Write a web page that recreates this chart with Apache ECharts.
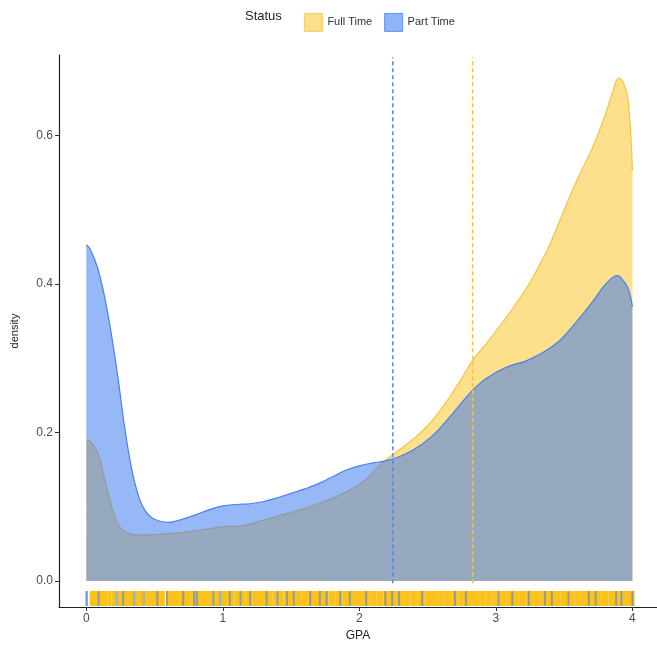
<!DOCTYPE html>
<html>
<head>
<meta charset="utf-8">
<script src="https://cdn.jsdelivr.net/npm/echarts@6/dist/echarts.min.js"></script>
<style>html,body{margin:0;padding:0;background:#fff;}#c{width:657px;height:649px;}</style>
</head>
<body>
<div id="c"></div>
<script>
// ---- data ----
var seriesNames = ['Full Time', 'Part Time'];

var gpaFull = [0, 0.04, 0.09, 0.14, 0.19, 0.24, 0.3, 0.4, 0.55, 0.7, 0.85, 1.0, 1.13, 1.3, 1.47, 1.67, 1.86, 2.03, 2.15, 2.25, 2.4, 2.52, 2.64, 2.74, 2.83, 2.94, 3.08, 3.23, 3.375, 3.47, 3.6, 3.7, 3.8, 3.85, 3.9, 3.94, 3.97, 4.0];
var densityFull = [0.19, 0.186, 0.169, 0.133, 0.097, 0.074, 0.065, 0.062, 0.063, 0.065, 0.069, 0.073, 0.074, 0.082, 0.091, 0.102, 0.116, 0.134, 0.156, 0.171, 0.192, 0.213, 0.242, 0.27, 0.297, 0.322, 0.356, 0.396, 0.445, 0.486, 0.542, 0.58, 0.627, 0.655, 0.677, 0.668, 0.645, 0.553];

var gpaPart = [0, 0.03, 0.08, 0.13, 0.18, 0.23, 0.28, 0.33, 0.38, 0.43, 0.5, 0.6, 0.7, 0.8, 0.9, 1.0, 1.1, 1.2, 1.3, 1.4, 1.5, 1.6, 1.7, 1.8, 1.9, 2.0, 2.1, 2.2, 2.3, 2.4, 2.52, 2.64, 2.74, 2.83, 2.94, 3.08, 3.23, 3.375, 3.47, 3.6, 3.7, 3.8, 3.85, 3.89, 3.93, 3.97, 4.0];
var densityPart = [0.4525, 0.446, 0.423, 0.386, 0.336, 0.276, 0.208, 0.153, 0.116, 0.095, 0.083, 0.079, 0.083, 0.089, 0.096, 0.101, 0.103, 0.104, 0.107, 0.112, 0.118, 0.124, 0.131, 0.14, 0.149, 0.155, 0.159, 0.162, 0.168, 0.177, 0.193, 0.216, 0.238, 0.257, 0.274, 0.288, 0.297, 0.311, 0.324, 0.351, 0.374, 0.399, 0.408, 0.411, 0.405, 0.393, 0.369];

var meanFull = 2.83;
var meanPart = 2.245;

var rugFull = [0.04, 0.06, 0.075, 0.105, 0.12, 0.14, 0.17, 0.2, 0.24, 0.26, 0.29, 0.31, 0.33, 0.37, 0.38, 0.4, 0.44, 0.46, 0.49, 0.51, 0.54, 0.56, 0.6, 0.62, 0.65, 0.67, 0.7, 0.73, 0.75, 0.78, 0.795, 0.825, 0.84, 0.86, 0.89, 0.91, 0.94, 0.96, 1.0, 1.02, 1.05, 1.07, 1.1, 1.12, 1.15, 1.18, 1.2, 1.23, 1.25, 1.28, 1.3, 1.33, 1.35, 1.38, 1.41, 1.43, 1.46, 1.49, 1.51, 1.54, 1.56, 1.59, 1.61, 1.64, 1.66, 1.68, 1.695, 1.725, 1.74, 1.76, 1.79, 1.81, 1.84, 1.86, 1.89, 1.91, 1.94, 1.96, 1.99, 2.01, 2.04, 2.06, 2.09, 2.11, 2.14, 2.16, 2.19, 2.21, 2.24, 2.26, 2.29, 2.31, 2.34, 2.36, 2.39, 2.41, 2.44, 2.46, 2.49, 2.51, 2.54, 2.56, 2.59, 2.61, 2.64, 2.66, 2.69, 2.71, 2.74, 2.76, 2.79, 2.81, 2.84, 2.86, 2.89, 2.91, 2.94, 2.96, 2.99, 3.01, 3.04, 3.06, 3.09, 3.11, 3.14, 3.16, 3.19, 3.21, 3.24, 3.26, 3.29, 3.31, 3.34, 3.36, 3.39, 3.41, 3.44, 3.46, 3.49, 3.51, 3.54, 3.56, 3.59, 3.61, 3.64, 3.66, 3.69, 3.71, 3.74, 3.76, 3.79, 3.81, 3.84, 3.86, 3.89, 3.91, 3.94, 3.96, 3.99, 4.0];
var rugPart = [0.0, 0.005, 0.09, 0.22, 0.27, 0.35, 0.42, 0.52, 0.59, 0.71, 0.79, 0.81, 0.93, 0.98, 1.05, 1.13, 1.2, 1.32, 1.4, 1.47, 1.52, 1.64, 1.71, 1.76, 1.86, 1.93, 2.05, 2.19, 2.24, 2.29, 2.46, 2.7, 2.78, 3.02, 3.12, 3.24, 3.36, 3.41, 3.53, 3.68, 3.73, 3.88, 3.92, 4.0];
var rugLevel = -0.0235;

var xTicks = [0, 1, 2, 3, 4];
var yTicks = [0, 0.2, 0.4, 0.6];

// ---- build ----
function pairs(xs, ys) { return xs.map(function (x, i) { return [x, ys[i]]; }); }
function rug(xs) { return xs.map(function (x) { return [x, rugLevel]; }); }

var yellowLine = '#F5C342';
var blueLine = '#4A7FEF';
var yellowFill = '#F9C21A';
var blueFill = '#2F72F0';

var chart = echarts.init(document.getElementById('c'), null, { renderer: 'canvas' });
chart.setOption({
  animation: false,
  backgroundColor: '#ffffff',
  textStyle: { fontFamily: 'Liberation Sans, Arial, sans-serif' },
  graphic: [{
    type: 'text', left: 245, top: 10,
    style: { text: 'Status', fontSize: 13, fill: '#222', fontFamily: 'Liberation Sans, Arial, sans-serif' }
  }],
  legend: {
    left: 299, top: 8,
    itemWidth: 18, itemHeight: 18, itemGap: 12,
    icon: 'rect',
    textStyle: { fontSize: 11, color: '#333' },
    selectedMode: false,
    data: [
      { name: seriesNames[0], itemStyle: { color: '#FCDF8C', borderColor: yellowLine, borderWidth: 0.8 } },
      { name: seriesNames[1], itemStyle: { color: '#8FB4F8', borderColor: blueLine, borderWidth: 0.8 } }
    ]
  },
  grid: { left: 59, right: 0, top: 55, bottom: 42, containLabel: false },
  xAxis: {
    type: 'value', min: -0.2, max: 4.18,
    name: 'GPA', nameLocation: 'middle', nameGap: 20,
    nameTextStyle: { fontSize: 12, color: '#222' },
    axisLine: { show: true, onZero: false, lineStyle: { color: '#222', width: 1.2 } },
    axisTick: { show: true, length: 4, customValues: xTicks, lineStyle: { color: '#333' } },
    axisLabel: { customValues: xTicks, fontSize: 12, color: '#4D4D4D', margin: 6 },
    splitLine: { show: false }
  },
  yAxis: {
    type: 'value', min: -0.035, max: 0.708,
    name: 'density', nameLocation: 'middle', nameGap: 39,
    nameTextStyle: { fontSize: 11, color: '#222' },
    axisLine: { show: true, onZero: false, lineStyle: { color: '#222', width: 1.2 } },
    axisTick: { show: true, length: 4, customValues: yTicks, lineStyle: { color: '#333' } },
    axisLabel: { customValues: yTicks, fontSize: 12, color: '#4D4D4D', margin: 6,
      formatter: function (v) { return v.toFixed(1); } },
    splitLine: { show: false }
  },
  series: [
    {
      name: seriesNames[0], type: 'line', smooth: 0.4, symbol: 'none', silent: true,
      data: pairs(gpaFull, densityFull),
      lineStyle: { color: yellowLine, width: 1.2 },
      itemStyle: { color: yellowLine },
      areaStyle: { color: yellowFill, opacity: 0.5, origin: 0 },
      z: 2
    },
    {
      name: seriesNames[1], type: 'line', smooth: 0.4, symbol: 'none', silent: true,
      data: pairs(gpaPart, densityPart),
      lineStyle: { color: blueLine, width: 1.2 },
      itemStyle: { color: blueLine },
      areaStyle: { color: blueFill, opacity: 0.5, origin: 0 },
      z: 3
    },
    {
      type: 'line', symbol: 'none', silent: true, z: 5,
      data: [[meanPart, -0.003], [meanPart, 0.705]],
      lineStyle: { color: '#4F86F7', width: 1.5, type: [4, 3] }
    },
    {
      type: 'line', symbol: 'none', silent: true, z: 5,
      data: [[meanFull, -0.003], [meanFull, 0.705]],
      lineStyle: { color: '#F6C445', width: 1.5, type: [4, 3] }
    },
    {
      type: 'scatter', silent: true, z: 4,
      symbol: 'rect', symbolSize: [4.2, 15],
      data: rug(rugFull),
      itemStyle: { color: '#FCC21C', opacity: 1 }
    },
    {
      type: 'scatter', silent: true, z: 4,
      symbol: 'rect', symbolSize: [2, 15],
      data: rug(rugPart),
      itemStyle: { color: '#3D7BF5', opacity: 0.55 }
    }
  ]
});
</script>
</body>
</html>
